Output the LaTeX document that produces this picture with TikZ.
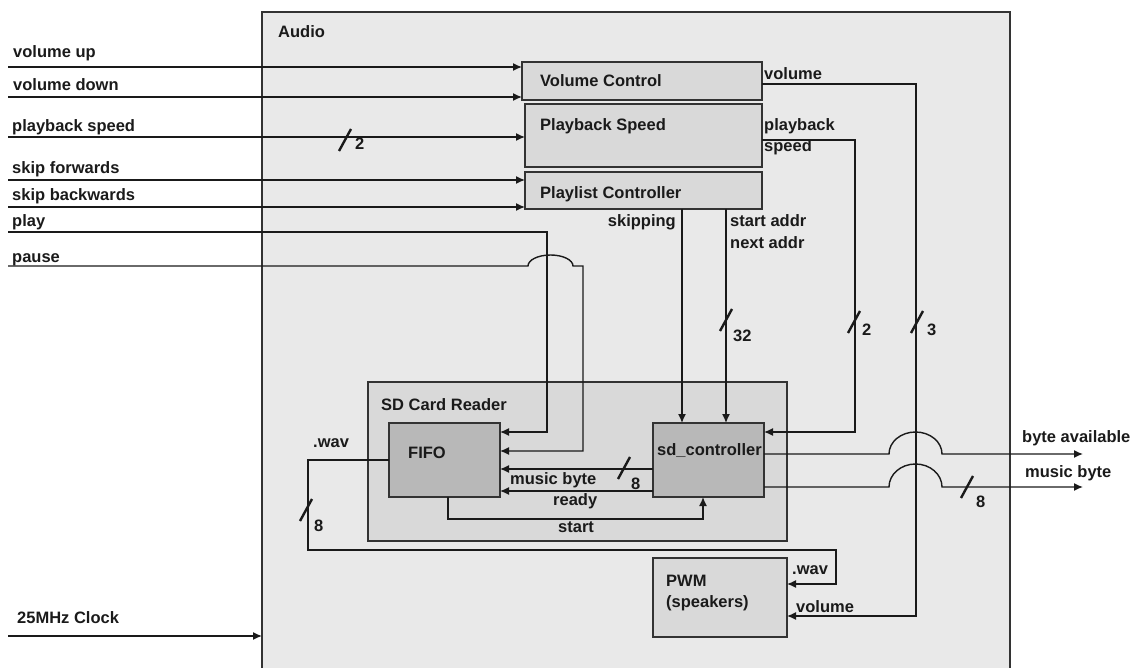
\documentclass[tikz,border=0pt]{standalone}
\usepackage{fontspec}
\setmainfont{Liberation Sans}
\usetikzlibrary{arrows.meta}
\definecolor{audiobg}{HTML}{E9E9E9}
\definecolor{blockbg}{HTML}{D9D9D9}
\definecolor{corebg}{HTML}{B8B8B8}
\definecolor{edge}{HTML}{333333}
\definecolor{ink}{HTML}{1A1A1A}

\begin{document}
\begin{tikzpicture}[x=1pt, y=-1pt,
  every node/.style={font=\fontsize{16.5}{20}\selectfont\bfseries, text=ink},
  block/.style={draw=edge, line width=1.4pt, inner sep=0pt, outer sep=0pt},
  txt/.style={inner sep=0pt, anchor=base west},
  sig/.style={draw=ink, line width=1.4pt, -{Latex[length=9pt,width=8pt]}},
  buswidth/.pic={\draw[ink, line width=2.4pt] (-6,11) -- (6,-11);}]
  \useasboundingbox (0,0) rectangle (1142,668);

  % blocks
  \node[block, fill=audiobg, minimum width=748, minimum height=700, anchor=north west] (audio) at (262,12) {};
  \node[block, fill=blockbg, minimum width=240, minimum height=38] (vol) at (642,81) {};
  \node[block, fill=blockbg, minimum width=237, minimum height=63] (spd) at (643.5,135.5) {};
  \node[block, fill=blockbg, minimum width=237, minimum height=37] (pl) at (643.5,190.5) {};
  \node[block, fill=blockbg, minimum width=419, minimum height=159] (sdr) at (577.5,461.5) {};
  \node[block, fill=corebg, minimum width=111, minimum height=74] (fifo) at (444.5,460) {};
  \node[block, fill=corebg, minimum width=111, minimum height=74] (sd) at (708.5,460) {};
  \node[block, fill=blockbg, minimum width=134, minimum height=79] (pwm) at (720,597.5) {};

  % block titles
  \node[txt] (tAudio) at (278,38) {Audio};
  \node[txt] (tVol) at (540,87) {Volume Control};
  \node[txt] (tSpd) at (540,131) {Playback Speed};
  \node[txt] (tPl) at (540,199) {Playlist Controller};
  \node[txt] (tSdr) at (381,410) {SD Card Reader};
  \node[txt] (tFifo) at (408,458) {FIFO};
  \node[txt] (tSd) at (657,455) {sd\_controller};
  \node[txt] (tPwm) at (666,586) {PWM};
  \node[txt] (tSpk) at (666,607) {(speakers)};

  % inputs
  \node[txt] (lVU) at (13,58) {volume up};
  \node[txt] (lVD) at (13,91) {volume down};
  \node[txt] (lPS) at (12,132) {playback speed};
  \node[txt] (lSF) at (12,174) {skip forwards};
  \node[txt] (lSB) at (12,201) {skip backwards};
  \node[txt] (lPlay) at (12,226) {play};
  \node[txt] (lPause) at (12,262) {pause};
  \node[txt] (lClk) at (17,623) {25MHz Clock};
  \coordinate (inVU) at (8,67);
  \coordinate (inVD) at (8,97);
  \coordinate (inPS) at (8,137);
  \coordinate (inSF) at (8,180);
  \coordinate (inSB) at (8,207);
  \coordinate (inPlay) at (8,232);
  \coordinate (inPause) at (8,266);
  \coordinate (inClk) at (8,636);
  \draw[sig] (inVU) -- (inVU -| vol.west);
  \draw[sig] (inVD) -- (inVD -| vol.west);
  \draw[sig] (inPS) -- (inPS -| spd.west);
  \draw[sig] (inSF) -- (inSF -| pl.west);
  \draw[sig] (inSB) -- (inSB -| pl.west);
  \draw[sig] (inClk) -- (inClk -| audio.west);
  \pic at (345,140) {buswidth};
  \node[txt] (wPS) at (355,150) {2};

  % play / pause into the fifo
  \coordinate (playB) at (547,432);
  \coordinate (pauseB) at (583,451);
  \coordinate (hopP) at (528,266);
  \draw[sig] (inPlay) -| (playB) -- (playB -| fifo.east);
  \draw[sig] (inPause) -- (hopP) arc[start angle=180, end angle=0, x radius=22.5pt, y radius=11pt]
    -- (pauseB |- inPause) -- (pauseB) -- (pauseB -| fifo.east);

  % block outputs
  \node[txt] (oVol) at (764,80) {volume};
  \node[txt] (oPb) at (764,131) {playback};
  \node[txt] (oSpd) at (764,152) {speed};
  \node[txt, anchor=base east] (oSkip) at (676,227) {skipping};
  \node[txt] (oStart) at (730,227) {start addr};
  \node[txt] (oNext) at (730,248) {next addr};
  \coordinate (volB) at (916,616);
  \coordinate (psB) at (855,432);
  \coordinate (skipX) at (682,0);
  \coordinate (addrX) at (726,0);
  \draw[sig] ([yshift=-3pt]vol.east) -| (volB) -- (volB -| pwm.east);
  \draw[sig] ([yshift=-4.5pt]spd.east) -| (psB) -- (psB -| sd.east);
  \draw[sig] (pl.south -| skipX) -- (skipX |- sd.north);
  \draw[sig] (pl.south -| addrX) -- (addrX |- sd.north);
  \pic at (726,320) {buswidth};
  \node[txt] (wAddr) at (733,341) {32};
  \pic at (854,322) {buswidth};
  \node[txt] (wSpd) at (862,335) {2};
  \pic at (917,322) {buswidth};
  \node[txt] (wVol) at (927,335) {3};

  % inside the sd card reader
  \coordinate (mbY) at (0,469);
  \coordinate (rdY) at (0,491);
  \coordinate (stA) at (448,519);
  \coordinate (stB) at (703,519);
  \draw[sig] (sd.west |- mbY) -- (fifo.east |- mbY);
  \draw[sig] (sd.west |- rdY) -- (fifo.east |- rdY);
  \draw[sig] (stA |- fifo.south) -- (stA) -- (stB) -- (stB |- sd.south);
  \pic at (624,468) {buswidth};
  \node[txt] (wMb) at (631,489) {8};
  \node[txt] (lMb) at (510,484) {music byte};
  \node[txt] (lRd) at (553,505) {ready};
  \node[txt] (lSt) at (558,532) {start};

  % .wav to the speakers
  \coordinate (wavA) at (308,550);
  \coordinate (wavB) at (836,584);
  \draw[sig] (fifo.west) -| (wavA) -| (wavB) -- (wavB -| pwm.east);
  \pic at (306,510) {buswidth};
  \node[txt] (wWav) at (314,531) {8};
  \node[txt] (lWav) at (313,447) {.wav};
  \node[txt] (iWav) at (792,574) {.wav};
  \node[txt] (iVol) at (796,612) {volume};

  % outputs
  \coordinate (hopX) at (889,0);
  \coordinate (baOut) at (1083,454);
  \coordinate (mbOut) at (1083,487);
  \draw[sig] (sd.east |- baOut) -- (hopX |- baOut) arc[start angle=180, end angle=0, x radius=26.5pt, y radius=22pt] -- (baOut);
  \draw[sig] (sd.east |- mbOut) -- (hopX |- mbOut) arc[start angle=180, end angle=0, x radius=26.5pt, y radius=23pt] -- (mbOut);
  \pic at (967,487) {buswidth};
  \node[txt] (wOut) at (976,507) {8};
  \node[txt] (lBa) at (1022,442) {byte available};
  \node[txt] (lMbOut) at (1025,477) {music byte};
\end{tikzpicture}
\end{document}
